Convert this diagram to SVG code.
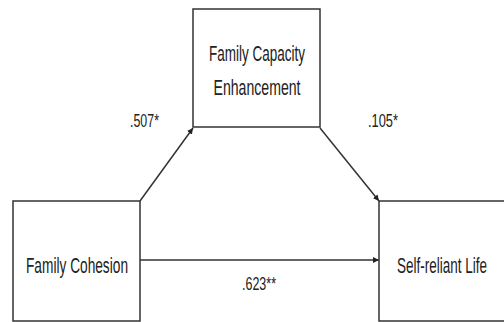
<svg xmlns="http://www.w3.org/2000/svg" width="504" height="322" viewBox="0 0 504 322">
<style>
.box{fill:#fff;stroke:#333;stroke-width:1.5}
.lbl{font-family:"Liberation Sans",Arial,sans-serif;font-size:22px;fill:#222}
.num{font-family:"Liberation Sans",Arial,sans-serif;font-size:18px;fill:#222}
.edge{stroke:#333;stroke-width:1.5;fill:none;marker-end:url(#ah)}
</style>
<defs>
<marker id="ah" viewBox="0 0 10 10" refX="10" refY="5" markerWidth="6" markerHeight="6" orient="auto" markerUnits="userSpaceOnUse">
<path d="M0,0 L10,5 L0,10 z" fill="#222"/>
</marker>
</defs>
<rect width="504" height="322" fill="#fff"/>
<g id="connectors">
<line class="edge" x1="140" y1="201" x2="193" y2="128"/>
<line class="edge" x1="320" y1="128" x2="379" y2="201"/>
<line class="edge" x1="140" y1="260" x2="379" y2="260"/>
<text class="num" x="144.5" y="127" text-anchor="middle" textLength="29" lengthAdjust="spacingAndGlyphs">.507*</text>
<text class="num" x="383" y="127" text-anchor="middle" textLength="30" lengthAdjust="spacingAndGlyphs">.105*</text>
<text class="num" x="259" y="290" text-anchor="middle" textLength="34" lengthAdjust="spacingAndGlyphs">.623**</text>
</g>
<g id="node-fce">
<rect class="box" x="193" y="9" width="127" height="118"/>
<text class="lbl" x="257" y="61" text-anchor="middle" textLength="96" lengthAdjust="spacingAndGlyphs">Family Capacity</text>
<text class="lbl" x="257" y="95" text-anchor="middle" textLength="87" lengthAdjust="spacingAndGlyphs">Enhancement</text>
</g>
<g id="node-fc">
<rect class="box" x="13" y="201" width="127" height="120"/>
<text class="lbl" x="77" y="273" text-anchor="middle" textLength="102" lengthAdjust="spacingAndGlyphs">Family Cohesion</text>
</g>
<g id="node-srl">
<rect class="box" x="379" y="201" width="130" height="120"/>
<text class="lbl" x="442" y="273" text-anchor="middle" textLength="90" lengthAdjust="spacingAndGlyphs">Self-reliant Life</text>
</g>
</svg>
